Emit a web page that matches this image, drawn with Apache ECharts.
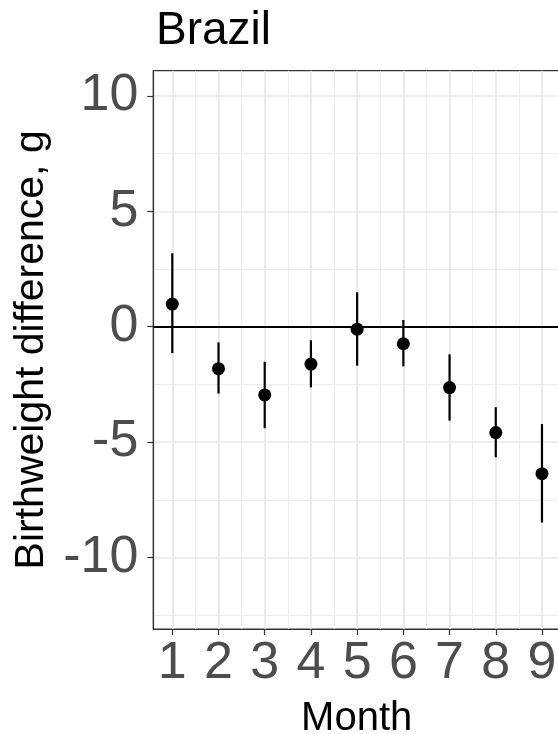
<!DOCTYPE html>
<html><head><meta charset="utf-8">
<script src="https://cdn.jsdelivr.net/npm/echarts@6/dist/echarts.min.js"></script>
<style>html,body{margin:0;padding:0;background:#fff}#c{width:558px;height:734px}</style>
</head><body><div id="c"></div>
<script>
const months = [1, 2, 3, 4, 5, 6, 7, 8, 9];
const estimate = [0.98, -1.82, -2.96, -1.62, -0.11, -0.74, -2.64, -4.59, -6.37];
const lower = [-1.15, -2.90, -4.40, -2.63, -1.69, -1.72, -4.07, -5.66, -8.49];
const upper = [3.18, -0.68, -1.52, -0.59, 1.49, 0.29, -1.20, -3.49, -4.22];
const yTicks = [-10, -5, 0, 5, 10];
const yMinor = [-12.5, -7.5, -2.5, 2.5, 7.5];
const xMinor = [1.5, 2.5, 3.5, 4.5, 5.5, 6.5, 7.5, 8.5];

const FONT = 'Liberation Sans, Arial, sans-serif';
const major = { color: '#e8e8e8', width: 1.7, type: 'solid' };
const minor = { color: '#ededed', width: 1, type: 'solid' };

const gridLines = []
  .concat(xMinor.map(v => ({ xAxis: v, lineStyle: minor })))
  .concat(yMinor.map(v => ({ yAxis: v, lineStyle: minor })))
  .concat(months.map(v => ({ xAxis: v, lineStyle: major })))
  .concat(yTicks.map(v => ({ yAxis: v, lineStyle: major })));

const chart = echarts.init(document.getElementById('c'), null, { renderer: 'canvas' });
chart.setOption({
  animation: false,
  backgroundColor: '#fff',
  title: {
    text: 'Brazil', left: 151, top: 3,
    textStyle: { fontSize: 46, fontWeight: 'normal', color: '#000', fontFamily: FONT }
  },
  grid: {
    left: 153.3, top: 70.7, right: -2, bottom: 105,
    outerBoundsMode: 'none', containLabel: false,
    show: true, borderColor: '#333', borderWidth: 1.2, backgroundColor: '#fff'
  },
  xAxis: {
    type: 'value', min: 0.589, max: 9.39,
    axisLine: { show: true, onZero: false, lineStyle: { color: '#333', width: 1.2 } },
    axisTick: { show: true, customValues: months, length: 6, lineStyle: { color: '#333', width: 1.2 } },
    axisLabel: { customValues: months, fontSize: 52, color: '#4d4d4d', margin: 9, fontFamily: FONT },
    splitLine: { show: false },
    name: 'Month', nameLocation: 'middle', nameGap: 70,
    nameTextStyle: { fontSize: 40, color: '#000', fontFamily: FONT }
  },
  yAxis: {
    type: 'value', min: -13.1, max: 11.09,
    axisLine: { show: true, onZero: false, lineStyle: { color: '#333', width: 1.2 } },
    axisTick: { show: true, customValues: yTicks, length: 6, lineStyle: { color: '#333', width: 1.2 } },
    axisLabel: { customValues: yTicks, fontSize: 52, color: '#4d4d4d', margin: 15, fontFamily: FONT },
    splitLine: { show: false },
    name: 'Birthweight difference, g', nameLocation: 'middle', nameGap: 93, nameRotate: 90,
    nameTextStyle: { fontSize: 41, color: '#000', fontFamily: FONT }
  },
  series: [
    {
      type: 'line', data: [], z: 0, silent: true,
      markLine: {
        z: 0, silent: true, symbol: ['none', 'none'], label: { show: false },
        animation: false, data: gridLines
      }
    },
    {
      type: 'line', data: [], z: 1, silent: true,
      markLine: {
        z: 1, silent: true, symbol: ['none', 'none'], label: { show: false },
        animation: false,
        data: [{ yAxis: 0, lineStyle: { color: '#000', width: 2, type: 'solid' } }]
      }
    },
    {
      type: 'custom', z: 2, silent: true,
      data: months.map((m, i) => [m, lower[i], upper[i]]),
      renderItem: function (params, api) {
        const a = api.coord([api.value(0), api.value(1)]);
        const b = api.coord([api.value(0), api.value(2)]);
        return { type: 'line', shape: { x1: a[0], y1: a[1], x2: b[0], y2: b[1] },
                 style: { stroke: '#000', lineWidth: 2.2 } };
      }
    },
    {
      type: 'scatter', z: 3, symbol: 'circle', symbolSize: 13,
      itemStyle: { color: '#000', opacity: 1 },
      data: months.map((m, i) => [m, estimate[i]])
    }
  ]
});
</script></body></html>
